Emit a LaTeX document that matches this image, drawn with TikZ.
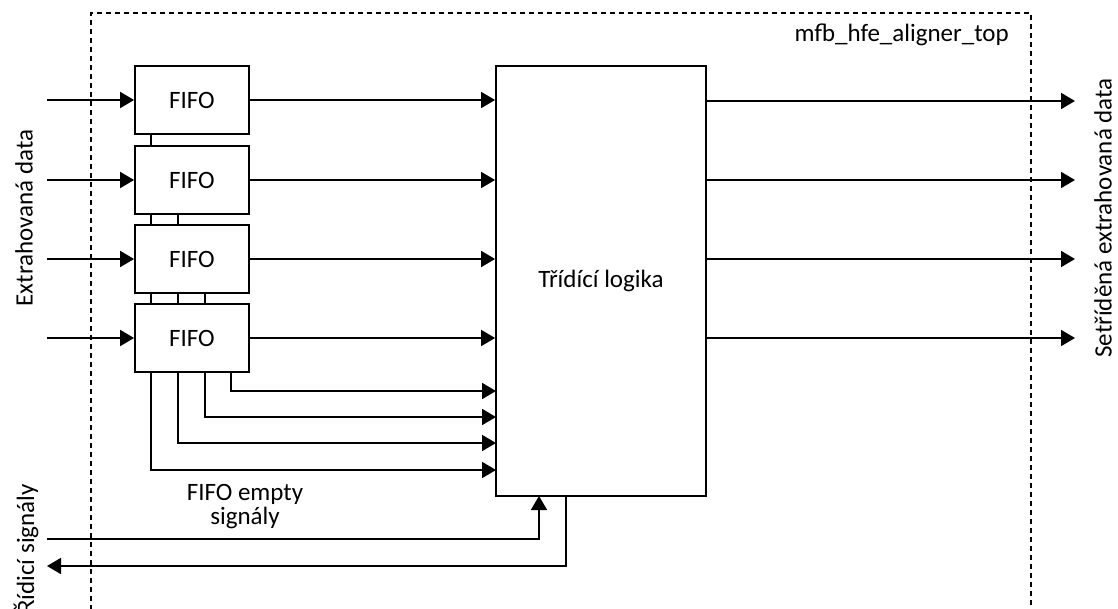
\documentclass[tikz,border=0pt]{standalone}
\usepackage{fontspec}
\setmainfont{Carlito}
\usetikzlibrary{arrows.meta,backgrounds}
\begin{document}
\begin{tikzpicture}[x=1pt,y=-1pt,
  font=\fontsize{25}{24}\selectfont,
  wire/.style={line width=1.8pt},
  sig/.style={wire,-{Triangle[length=14pt,width=16pt]}},
  block/.style={draw,line width=1.8pt,fill=white,inner sep=0pt,
    minimum width=114pt,minimum height=68pt},
  frame/.style={line width=1.4pt,dash pattern=on 5pt off 4pt},
  lbl/.style={inner sep=0pt}]
  \useasboundingbox (0,0) rectangle (1118,609);
  \clip (0,0) rectangle (1118,609);

  % component boundary
  \draw[frame] (91,700) -- (91,13) -- (1031,13) -- (1031,700);
  \node[lbl,anchor=base east] (top) at (1009,42) {mfb\_hfe\_aligner\_top};

  % input FIFOs
  \node[block] (f1) at (192,100) {FIFO};
  \node[block] (f2) at (192,180) {FIFO};
  \node[block] (f3) at (192,259) {FIFO};
  \node[block] (f4) at (192,338) {FIFO};

  % sorting logic
  \node[block,minimum width=210pt,minimum height=430pt] (L) at (601,281) {Třídící logika};

  % data inputs
  \coordinate (i1) at (47,100);
  \coordinate (i2) at (47,180);
  \coordinate (i3) at (47,259);
  \coordinate (i4) at (47,338);
  \foreach \k in {1,...,4}{
    \draw[sig] (i\k) -- (f\k.west);
    \draw[sig] (f\k.east) -- (f\k.east -| L.west);
  }

  % sorted outputs
  \coordinate (o1) at (1075,101);
  \coordinate (o2) at (1075,180);
  \coordinate (o3) at (1075,259);
  \coordinate (o4) at (1075,338);
  \foreach \k in {1,...,4}{
    \draw[sig] (L.east |- o\k) -- (o\k);
  }

  % FIFO empty flags, routed behind the FIFO stack
  \coordinate (e1) at (496,470);
  \coordinate (e2) at (496,443);
  \coordinate (e3) at (496,417);
  \coordinate (e4) at (496,391);
  \begin{scope}[on background layer]
    \draw[sig] ([xshift=17pt]f1.south west) |- (e1);
    \draw[sig] ([xshift=44pt]f2.south west) |- (e2);
    \draw[sig] ([xshift=71pt]f3.south west) |- (e3);
    \draw[sig] ([xshift=97pt]f4.south west) |- (e4);
  \end{scope}
  \node[lbl,align=center] (empty) at (245,507) {FIFO empty\\signály};

  % control signals
  \coordinate (ci) at (47,539);
  \coordinate (cu) at (539,496);
  \coordinate (cd) at (566,496);
  \coordinate (co) at (47,566);
  \draw[sig] (ci) -| (cu);
  \draw[sig] (cd) |- (co);

  % side labels
  \node[rotate=90] (tin) at (24,218) {Extrahovaná data};
  \node[rotate=90] (tout) at (1103,218) {Setříděná extrahovaná data};
  \node[rotate=90] (tctl) at (26,549) {Řídicí signály};
\end{tikzpicture}
\end{document}
